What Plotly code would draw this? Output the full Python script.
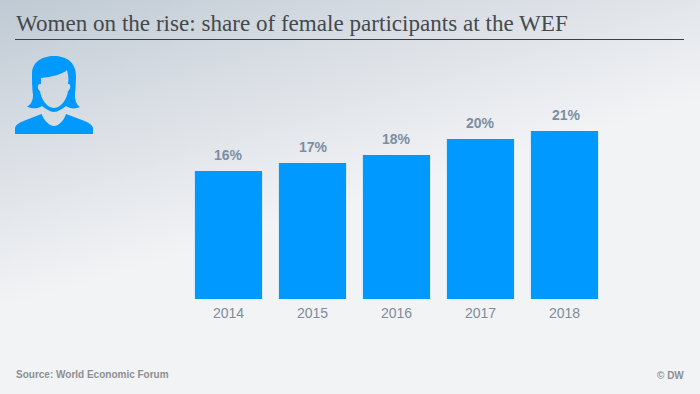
import plotly.graph_objects as go

years = ["2014", "2015", "2016", "2017", "2018"]
shares = [16, 17, 18, 20, 21]
labels = ["16%", "17%", "18%", "20%", "21%"]

W, H = 700, 394
BLUE = "#0099ff"
LABEL_XSHIFT = [0, 1, 0, 0, 2]


def px(path):
    """Convert a path written in page pixels to paper fractions."""
    out, is_x = [], True
    for tok in path.split():
        if tok.isalpha():
            out.append(tok)
        else:
            v = float(tok)
            out.append(f"{v / W:.5f}" if is_x else f"{1 - v / H:.5f}")
            is_x = not is_x
    return " ".join(out)


bg_svg = (
    "data:image/svg+xml;utf8,<svg xmlns='http://www.w3.org/2000/svg' width='700' height='394'>"
    "<defs><linearGradient id='g' gradientUnits='userSpaceOnUse' x1='0' y1='0' x2='85' y2='285'>"
    "<stop offset='0' stop-color='%23bfcad4'/><stop offset='0.5' stop-color='%23dadfe5'/>"
    "<stop offset='1' stop-color='%23f2f3f5'/></linearGradient></defs>"
    "<rect width='700' height='394' fill='url(%23g)'/></svg>"
)

hair = px(
    "M 27 106.5 C 31 105 33 100 33 95 C 32 88 32 80 32 74 C 32 62 42 56 54 56 "
    "C 66 56 76 62 76 76 C 76 85 75 92 75 96 C 75 101 77 105 80 107 "
    "C 76 109 70 109 66 106 C 62 109 58 112 54 112 C 50 112 46 109 42 106 "
    "C 38 109 31 109 27 106.5 Z "
    "M 41 78 L 41 84 C 37 83 37 89 40 91 C 41 99 47 108 54 108 C 61 108 67 99 68 91 "
    "C 71 89 71 83 68 84 C 69 79 68 74 67 70 C 63 74 52 77 41 78 Z"
)
body = px("M 15 134 L 15 128 C 16 124 21 122 26 120 L 41.5 114 C 44 120 49 126 54 126 C 59 126 64 120 66 114 "
          "L 82 120 C 87 122 92 124 93 128 L 93 134 Z")

fig = go.Figure(
    go.Bar(x=years, y=shares, marker=dict(color=BLUE, line_width=0), hoverinfo="skip")
)
fig.update_layout(
    width=W, height=H, margin=dict(l=0, r=0, t=0, b=0, autoexpand=False),
    paper_bgcolor="#f2f3f5", plot_bgcolor="rgba(0,0,0,0)", showlegend=False, bargap=0.2,
    images=[dict(source=bg_svg, xref="paper", yref="paper", x=0, y=1, sizex=1, sizey=1,
                 sizing="stretch", xanchor="left", yanchor="top", layer="below")],
    shapes=[
        dict(type="line", xref="paper", yref="paper", x0=15 / W, x1=684 / W, y0=1 - 39.5 / H, y1=1 - 39.5 / H,
             line=dict(color="#3c4146", width=1)),
        dict(type="path", xref="paper", yref="paper", path=hair, fillcolor=BLUE, line_width=0),
        dict(type="path", xref="paper", yref="paper", path=body, fillcolor=BLUE, line_width=0),
    ],
    annotations=[
        dict(text="Women on the rise: share of female participants at the WEF", xref="paper", yref="paper",
             x=14.5 / W, y=1 - 23 / H, xanchor="left", yanchor="middle", showarrow=False, borderpad=0,
             font=dict(family="Liberation Serif", size=23.1, color="#45494d")),
        dict(text="<b>Source: World Economic Forum</b>", xref="paper", yref="paper",
             x=14.5 / W, y=1 - 374 / H, xanchor="left", yanchor="middle", showarrow=False, borderpad=0,
             font=dict(family="Liberation Sans", size=10, color="#8c8f92")),
        dict(text="<b>© DW</b>", xref="paper", yref="paper",
             x=684.5 / W, y=1 - 375 / H, xanchor="right", yanchor="middle", showarrow=False, borderpad=0,
             font=dict(family="Liberation Sans", size=10, color="#8c8f92")),
    ]
    + [
        dict(text=f"<b>{lab}</b>", x=i, y=v, xref="x", yref="y", xanchor="center", yanchor="bottom",
             showarrow=False, yshift=7, xshift=dx, borderpad=0,
             font=dict(family="Liberation Sans", size=14, color="#7b8ea3"))
        for i, (v, lab, dx) in enumerate(zip(shares, labels, LABEL_XSHIFT))
    ],
)
fig.update_xaxes(domain=[186.5 / W, 606.5 / W], type="category", range=[-0.5, 4.5], showgrid=False, showline=False,
                 ticks="", tickfont=dict(family="Liberation Sans", size=14, color="#7f8c9a"), ticklabelstandoff=4)
fig.update_yaxes(domain=[1 - 299 / H, 1 - 131 / H], range=[0, 21], visible=False)
fig.write_html("out.html", config={"displayModeBar": False},
               post_script="document.body.style.margin='0';document.documentElement.style.overflow='hidden';")
